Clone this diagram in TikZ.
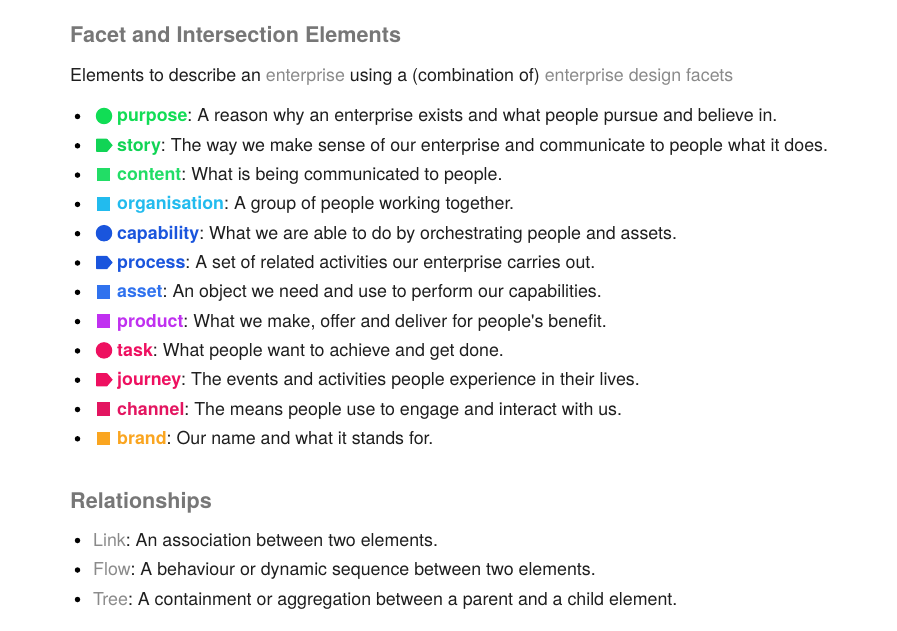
\documentclass[tikz,border=0pt]{standalone}
\usepackage{fontspec}
\setmainfont{TeX Gyre Heros}
\usepackage{tikz}
\frenchspacing

\definecolor{headC}{HTML}{777777}
\definecolor{greyC}{HTML}{8A8A8A}
\definecolor{bodyC}{HTML}{1E1E1E}
\definecolor{purposeC}{HTML}{11DD55}
\definecolor{storyC}{HTML}{11D455}
\definecolor{contentC}{HTML}{22DD66}
\definecolor{organisationC}{HTML}{22BBEE}
\definecolor{capabilityC}{HTML}{1A55DD}
\definecolor{processC}{HTML}{1A55DD}
\definecolor{assetC}{HTML}{3072EE}
\definecolor{productC}{HTML}{C030F0}
\definecolor{taskC}{HTML}{EE1060}
\definecolor{journeyC}{HTML}{EE1060}
\definecolor{channelC}{HTML}{E31560}
\definecolor{brandC}{HTML}{FAA520}

\tikzset{
	head/.style={anchor=base west,inner sep=0,text=headC,font=\fontsize{21.6}{25}\selectfont\bfseries},
	txt/.style={anchor=base west,inner sep=0,text=bodyC,font=\fontsize{17.8}{21}\selectfont},
	bul/.style={circle,fill=black,inner sep=0,minimum size=5.5pt},
	roundicon/.style={circle,fill=#1,inner sep=0,minimum size=16.5pt},
	squareicon/.style={rectangle,fill=#1,inner sep=0,minimum size=13.5pt}
}

\newcommand{\lbl}[2]{\textcolor{#1C}{\textbf{#2}}}
% tag icon: left end of the tag at the given coordinate
\newcommand{\tagshape}[2]{\fill[#2,rounded corners=0.8pt] (#1) ++(0,-6.7) -- ++(11,0) [sharp corners] -- ++(5.7,6.7) -- ++(-5.7,6.7) [rounded corners=0.8pt] -- ++(-11,0) -- cycle;}

\begin{document}
\begin{tikzpicture}[x=1pt,y=-1pt]
		\useasboundingbox (0,0) rectangle (897,631);
%		\draw[help lines,step=50] (0,0) grid (897,631);
		\path (70,43) coordinate (facets);
		\path (70,82) coordinate (intro);
		\path (70,508) coordinate (relations);

		\node[head] (facets_head) at (facets) {Facet and Intersection Elements};
		\node[txt] (intro_txt) at (intro) {Elements to describe an \textcolor{greyC}{enterprise} using a (combination of) \textcolor{greyC}{enterprise design facets}};

		% facet elements
		\node[bul] (b1) at (77.5,116.5) {};
		\node[roundicon=purposeC] (purpose_icon) at (104,116) {};
		\node[txt] (purpose_txt) at (117,122) {\lbl{purpose}{purpose}: A reason why an enterprise exists and what people pursue and believe in.};

		\node[bul] (b2) at (77.5,145.8) {};
		\path (96,145.3) coordinate (story_icon);
		\tagshape{story_icon}{storyC}
		\node[txt] (story_txt) at (117,151.3) {\lbl{story}{story}: The way we make sense of our enterprise and communicate to people what it does.};

		\node[bul] (b3) at (77.5,175.1) {};
		\node[squareicon=contentC] (content_icon) at (103.5,174.6) {};
		\node[txt] (content_txt) at (117,180.6) {\lbl{content}{content}: What is being communicated to people.};

		\node[bul] (b4) at (77.5,204.4) {};
		\node[squareicon=organisationC] (organisation_icon) at (103.5,203.9) {};
		\node[txt] (organisation_txt) at (117,209.9) {\lbl{organisation}{organisation}: A group of people working together.};

		\node[bul] (b5) at (77.5,233.7) {};
		\node[roundicon=capabilityC] (capability_icon) at (104,233.2) {};
		\node[txt] (capability_txt) at (117,239.2) {\lbl{capability}{capability}: What we are able to do by orchestrating people and assets.};

		\node[bul] (b6) at (77.5,263) {};
		\path (96,262.5) coordinate (process_icon);
		\tagshape{process_icon}{processC}
		\node[txt] (process_txt) at (117,268.5) {\lbl{process}{process}: A set of related activities our enterprise carries out.};

		\node[bul] (b7) at (77.5,292.3) {};
		\node[squareicon=assetC] (asset_icon) at (103.5,291.8) {};
		\node[txt] (asset_txt) at (117,297.8) {\lbl{asset}{asset}: An object we need and use to perform our capabilities.};

		\node[bul] (b8) at (77.5,321.6) {};
		\node[squareicon=productC] (product_icon) at (103.5,321.1) {};
		\node[txt] (product_txt) at (117,327.1) {\lbl{product}{product}: What we make, offer and deliver for people\textquotesingle s benefit.};

		\node[bul] (b9) at (77.5,350.9) {};
		\node[roundicon=taskC] (task_icon) at (104,350.4) {};
		\node[txt] (task_txt) at (117,356.4) {\lbl{task}{task}: What people want to achieve and get done.};

		\node[bul] (b10) at (77.5,380.2) {};
		\path (96,379.7) coordinate (journey_icon);
		\tagshape{journey_icon}{journeyC}
		\node[txt] (journey_txt) at (117,385.7) {\lbl{journey}{journey}: The events and activities people experience in their lives.};

		\node[bul] (b11) at (77.5,409.5) {};
		\node[squareicon=channelC] (channel_icon) at (103.5,409) {};
		\node[txt] (channel_txt) at (117,415) {\lbl{channel}{channel}: The means people use to engage and interact with us.};

		\node[bul] (b12) at (77.5,438.8) {};
		\node[squareicon=brandC] (brand_icon) at (103.5,438.3) {};
		\node[txt] (brand_txt) at (117,444.3) {\lbl{brand}{brand}: Our name and what it stands for.};

		% relationships
		\node[head] (relations_head) at (relations) {Relationships};

		\node[bul] (r1) at (77.5,540.5) {};
		\node[txt] (link_txt) at (93,546) {\textcolor{greyC}{Link}: An association between two elements.};

		\node[bul] (r2) at (77.5,570) {};
		\node[txt] (flow_txt) at (93,575.5) {\textcolor{greyC}{Flow}: A behaviour or dynamic sequence between two elements.};

		\node[bul] (r3) at (77.5,599.5) {};
		\node[txt] (tree_txt) at (93,605) {\textcolor{greyC}{Tree}: A containment or aggregation between a parent and a child element.};
	\end{tikzpicture}
\end{document}
